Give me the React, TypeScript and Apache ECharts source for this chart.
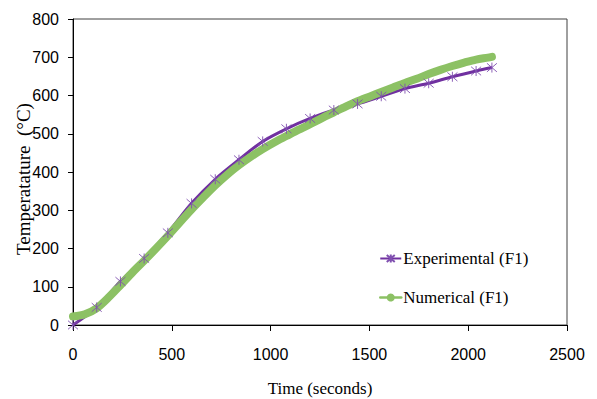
import React, { useEffect, useRef } from "react";
import * as echarts from "echarts";

const expTime = [0, 120, 240, 360, 480, 600, 720, 840, 960, 1080, 1200, 1320, 1440, 1560, 1680, 1800, 1920, 2040, 2120];
const expTemp = [0, 46, 114, 174, 241, 318, 381, 432, 480, 513, 540, 562, 578, 598, 618, 632, 649, 664, 673];

const numTime = [0, 60, 120, 180, 240, 300, 360, 420, 480, 540, 600, 660, 720, 780, 840, 900, 960, 1020, 1080, 1140, 1200, 1260, 1320, 1380, 1440, 1500, 1560, 1620, 1680, 1740, 1800, 1860, 1920, 1980, 2040, 2100, 2120];
const numTemp = [22, 28, 44, 72, 104, 137, 168, 200, 233, 268, 302, 334, 365, 393, 418, 440, 460, 478, 494, 510, 525, 541, 556, 571, 585, 597, 609, 621, 633, 644, 656, 667, 677, 686, 694, 699, 701];

const xTicks = [0, 500, 1000, 1500, 2000, 2500];
const yTicks = [0, 100, 200, 300, 400, 500, 600, 700, 800];

const PURPLE = "#7030A0";
const GREEN = "#8CC164";
const SANS = "'Liberation Sans Narrow', 'Arial Narrow', 'Liberation Sans', sans-serif";
const SERIF = "'Liberation Serif', 'Times New Roman', serif";

export default function App() {
  const ref = useRef<HTMLDivElement>(null);
  useEffect(() => {
    if (!ref.current) return;
    const chart = echarts.init(ref.current, undefined, { renderer: "svg" });
    chart.setOption({
      animation: false,
      backgroundColor: "#ffffff",
      grid: {
        left: 73,
        right: 30,
        top: 19,
        bottom: 74,
        containLabel: false,
        outerBoundsMode: "none",
        show: true,
        borderColor: "#404040",
        borderWidth: 1,
      },
      legend: {
        orient: "vertical",
        left: 374,
        top: 245,
        itemGap: 22,
        itemWidth: 21,
        itemHeight: 10,
        textStyle: { fontFamily: SERIF, fontSize: 17, color: "#000", padding: [0, 0, 0, -3] },
        data: [
          { name: "Experimental (F1)" },
          { name: "Numerical (F1)", lineStyle: { width: 2.5 } },
        ],
      },
      xAxis: {
        type: "value",
        min: 0,
        max: 2500,
        interval: 500,
        name: "Time (seconds)",
        nameLocation: "middle",
        nameGap: 55,
        nameMoveOverlap: false,
        nameTextStyle: { fontFamily: SERIF, fontSize: 17, color: "#000" },
        axisLine: { show: true, lineStyle: { color: "#000", width: 1 } },
        axisTick: { show: true, inside: false, length: 6, lineStyle: { color: "#000" } },
        axisLabel: {
          fontFamily: SANS,
          fontSize: 16,
          color: "#000",
          margin: 21,
          formatter: (v: number) => (xTicks.includes(v) ? String(v) : ""),
        },
        splitLine: { show: false },
      },
      yAxis: {
        type: "value",
        min: 0,
        max: 800,
        interval: 100,
        name: "Temperatature  (°C)",
        nameLocation: "middle",
        nameGap: 40,
        nameMoveOverlap: false,
        nameTextStyle: { fontFamily: SERIF, fontSize: 19, color: "#000", padding: [0, 14, 0, 0] },
        axisLine: { show: true, lineStyle: { color: "#000", width: 1 } },
        axisTick: { show: true, inside: false, length: 5, lineStyle: { color: "#000" } },
        axisLabel: {
          fontFamily: SANS,
          fontSize: 16,
          color: "#000",
          margin: 14,
          formatter: (v: number) => (yTicks.includes(v) ? String(v) : ""),
        },
        splitLine: { show: false },
      },
      series: [
        {
          name: "Experimental (F1)",
          type: "line",
          data: expTime.map((t, i) => [t, expTemp[i]]),
          smooth: 0.3,
          symbol: "path://M0,-5L0,5M-4.3,-4.3L4.3,4.3M-4.3,4.3L4.3,-4.3",
          symbolSize: 10,
          showSymbol: true,
          lineStyle: { color: PURPLE, width: 3 },
          itemStyle: { color: PURPLE, borderColor: "#8050B0", borderWidth: 0.9 },
        },
        {
          name: "Numerical (F1)",
          type: "line",
          data: numTime.map((t, i) => [t, numTemp[i]]),
          smooth: 0.3,
          symbol: "circle",
          symbolSize: 6,
          showSymbol: false,
          lineStyle: { color: GREEN, width: 8, cap: "round", join: "round" },
          itemStyle: { color: GREEN },
        },
      ],
    });
    return () => chart.dispose();
  }, []);
  return <div ref={ref} style={{ width: 597, height: 399, position: "absolute", left: 0, top: 0 }} />;
}
